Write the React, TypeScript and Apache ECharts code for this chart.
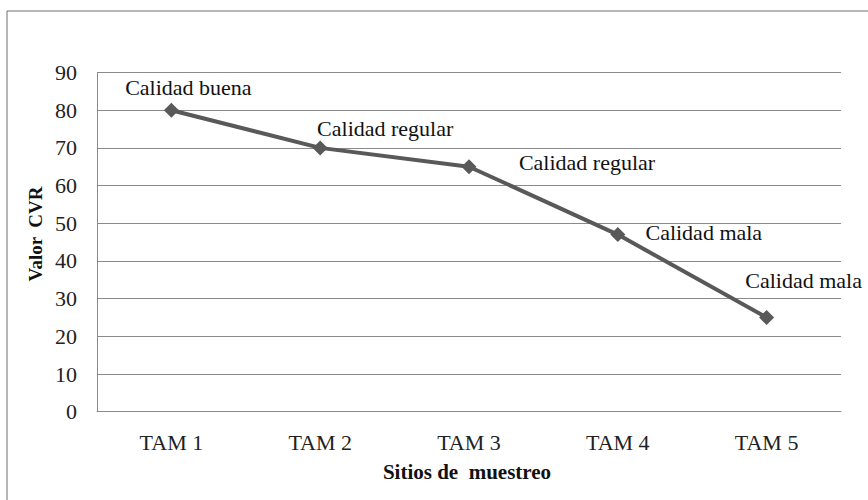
import React, { useEffect, useRef } from "react";
import * as echarts from "echarts";

const categories = ["TAM 1", "TAM 2", "TAM 3", "TAM 4", "TAM 5"];
const values = [80, 70, 65, 47, 25];
const qualityLabels = ["Calidad buena", "Calidad regular", "Calidad regular", "Calidad mala", "Calidad mala"];
const labelOffsets = [[17, -23], [65, -19], [118, -4], [86, -2], [37, -37]];
const yTicks = [0, 10, 20, 30, 40, 50, 60, 70, 80, 90];

export default function App() {
  const ref = useRef<HTMLDivElement>(null);
  useEffect(() => {
    if (!ref.current) return;
    const chart = echarts.init(ref.current, undefined, { renderer: "svg" });
    const font = "Liberation Serif";
    chart.setOption({
      animation: false,
      backgroundColor: "#ffffff",
      textStyle: { fontFamily: font },
      graphic: [
        {
          type: "rect",
          shape: { x: 7, y: 11, width: 870, height: 500 },
          style: { fill: "none", stroke: "#6e6e6e", lineWidth: 1 },
          silent: true,
        },
        {
          type: "text",
          x: 35,
          y: 234,
          rotation: Math.PI / 2,
          style: {
            text: "Valor  CVR",
            font: "bold 19px \"Liberation Serif\"",
            fill: "#111",
            align: "center",
            verticalAlign: "middle",
          },
        },
        {
          type: "text",
          x: 467,
          y: 472,
          style: {
            text: "Sitios de  muestreo",
            font: "bold 21px \"Liberation Serif\"",
            fill: "#111",
            align: "center",
            verticalAlign: "middle",
          },
        },
      ],
      grid: { left: 97, right: 27, top: 72.5, bottom: 88.3, containLabel: false },
      xAxis: {
        type: "category",
        data: categories,
        boundaryGap: true,
        axisLine: { show: true, lineStyle: { color: "#8a8a8a", width: 1 } },
        axisTick: { show: false },
        axisLabel: { fontFamily: font, fontSize: 22, color: "#222", margin: 20 },
      },
      yAxis: {
        type: "value",
        min: yTicks[0],
        max: yTicks[yTicks.length - 1],
        interval: 10,
        axisLine: { show: true, lineStyle: { color: "#8a8a8a", width: 1 } },
        axisTick: { show: false },
        splitLine: { show: true, lineStyle: { color: "#8a8a8a", width: 1 } },
        axisLabel: { fontFamily: font, fontSize: 22, color: "#222", margin: 20 },
      },
      series: [
        {
          type: "line",
          label: {
            show: true,
            position: "inside",
            formatter: (p: any) => qualityLabels[p.dataIndex],
            fontFamily: font,
            fontSize: 22,
            color: "#111",
          },
          data: values.map((v, i) => ({
            value: v,
            label: { offset: labelOffsets[i] },
          })),
          symbol: "diamond",
          symbolSize: 15,
          lineStyle: { color: "#595959", width: 4 },
          itemStyle: { color: "#595959" },
        },
      ],
    });
    return () => chart.dispose();
  }, []);
  return <div ref={ref} style={{ position: "fixed", left: 0, top: 0, width: 868, height: 500 }} />;
}
